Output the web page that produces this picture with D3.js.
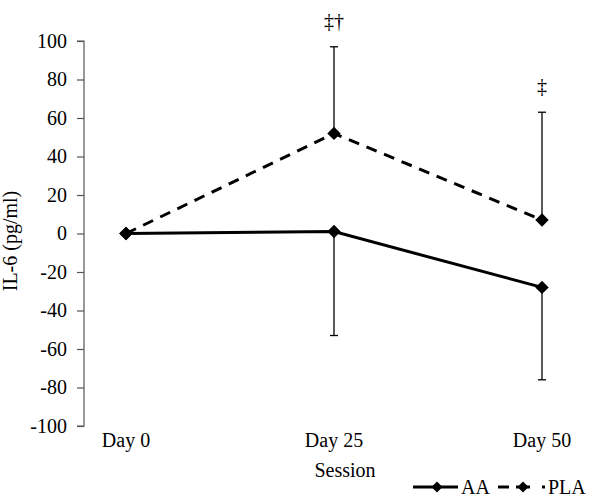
<!DOCTYPE html>
<html><head><meta charset="utf-8">
<script src="https://cdn.jsdelivr.net/npm/d3@7"></script>
<style>body{margin:0;background:#fff}svg{display:block}</style>
</head><body>
<script>
const categories = ["Day 0", "Day 25", "Day 50"];
const aaValues = [0, 1, -28];
const aaErrLow = [0, 54, 48];
const plaValues = [0, 52, 7];
const plaErrHigh = [0, 45, 56];
const yTicks = [-100, -80, -60, -40, -20, 0, 20, 40, 60, 80, 100];
const annotations = [{cat: "Day 25", text: "‡†", y: 107}, {cat: "Day 50", text: "‡", y: 73}];

const W = 600, H = 500;
const font = "'Liberation Serif', 'Times New Roman', serif";
const fs = 20;
const svg = d3.select("body").append("svg").attr("width", W).attr("height", H);

const x = d3.scalePoint().domain(categories).range([126, 542]);
const y = d3.scaleLinear().domain([-100, 100]).range([426, 41]);

// y axis
const yAxis = svg.append("g").attr("transform", "translate(84,0)")
  .call(d3.axisLeft(y).tickValues(yTicks).tickSize(7).tickPadding(10).tickFormat(d => String(d)));
yAxis.attr("font-family", font);
yAxis.select(".domain").attr("stroke", "#555").attr("stroke-width", 1.2).attr("d", "M-7," + y(100) + "H0V" + y(-100) + "H-7");
yAxis.selectAll(".tick line").attr("stroke", "#555").attr("stroke-width", 1.2);
yAxis.selectAll("text").attr("font-family", font).attr("font-size", fs).attr("fill", "#000");

// x labels
svg.append("g").selectAll("text").data(categories).join("text")
  .attr("x", d => x(d)).attr("y", 447).attr("text-anchor", "middle")
  .attr("font-family", font).attr("font-size", fs).text(d => d);

svg.append("text").attr("x", 345).attr("y", 477).attr("text-anchor", "middle")
  .attr("font-family", font).attr("font-size", fs).text("Session");
svg.append("text").attr("transform", "translate(17,241) rotate(-90)").attr("text-anchor", "middle")
  .attr("font-family", font).attr("font-size", fs).text("IL-6 (pg/ml)");

// error bars
function errBar(cx, y0, y1) {
  svg.append("line").attr("x1", cx).attr("x2", cx).attr("y1", y0).attr("y2", y1).attr("stroke", "#000").attr("stroke-width", 1.3);
  svg.append("line").attr("x1", cx - 4).attr("x2", cx + 4).attr("y1", y1).attr("y2", y1).attr("stroke", "#000").attr("stroke-width", 1.3);
}
categories.forEach((c, i) => {
  if (aaErrLow[i] > 0) errBar(x(c), y(aaValues[i]), y(aaValues[i] - aaErrLow[i]));
  if (plaErrHigh[i] > 0) errBar(x(c), y(plaValues[i]), y(plaValues[i] + plaErrHigh[i]));
});

const line = d3.line().x((d, i) => x(categories[i])).y(d => y(d));
svg.append("path").datum(plaValues).attr("d", line).attr("fill", "none").attr("stroke", "#000")
  .attr("stroke-width", 3).attr("stroke-dasharray", "11,8");
svg.append("path").datum(aaValues).attr("d", line).attr("fill", "none").attr("stroke", "#000")
  .attr("stroke-width", 3);

function drawDiamond(cx, cy, s) {
  svg.append("path").attr("d", d3.symbol().type(d3.symbolSquare).size(s || 90)())
    .attr("transform", `translate(${cx},${cy}) rotate(45)`).attr("fill", "#000");
}
[plaValues, aaValues].forEach(vals => vals.forEach((v, i) => drawDiamond(x(categories[i]), y(v))));

// annotations
svg.append("g").selectAll("text").data(annotations).join("text")
  .attr("x", d => x(d.cat)).attr("y", d => y(d.y)).attr("text-anchor", "middle")
  .attr("font-family", font).attr("font-size", fs).attr("fill", "#000").text(d => d.text);

// legend
const ly = 487;
svg.append("line").attr("x1", 413).attr("x2", 458).attr("y1", ly).attr("y2", ly).attr("stroke", "#000").attr("stroke-width", 3);
drawDiamond(437, ly, 60);
svg.append("text").attr("x", 461).attr("y", ly + 7).attr("font-family", font).attr("font-size", fs).text("AA");
svg.append("line").attr("x1", 498).attr("x2", 509).attr("y1", ly).attr("y2", ly).attr("stroke", "#000").attr("stroke-width", 3);
svg.append("line").attr("x1", 516).attr("x2", 530).attr("y1", ly).attr("y2", ly).attr("stroke", "#000").attr("stroke-width", 3);
drawDiamond(523, ly, 60);
svg.append("line").attr("x1", 542).attr("x2", 545).attr("y1", ly).attr("y2", ly).attr("stroke", "#000").attr("stroke-width", 3);
svg.append("text").attr("x", 548).attr("y", ly + 7).attr("font-family", font).attr("font-size", fs).text("PLA");
</script>
</body></html>
